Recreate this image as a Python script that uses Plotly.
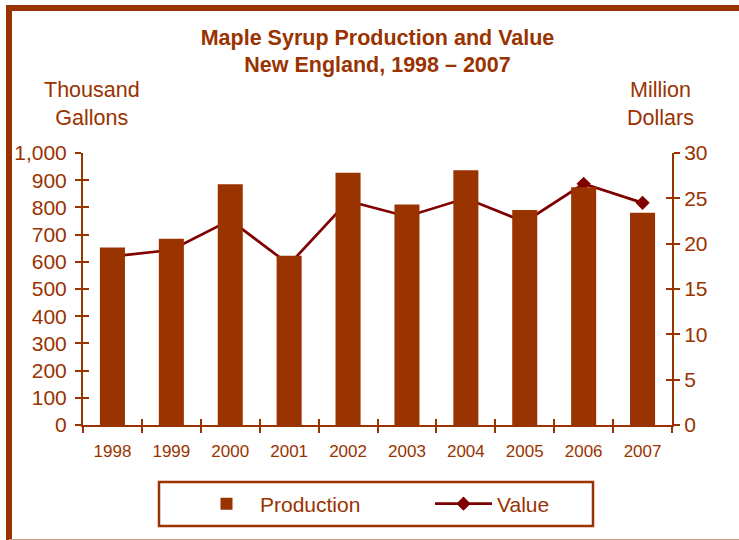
import plotly.graph_objects as go

years = ["1998", "1999", "2000", "2001", "2002", "2003", "2004", "2005", "2006", "2007"]
production = [653, 685, 885, 622, 927, 811, 937, 790, 874, 780]   # thousand gallons
value = [18.6, 19.3, 22.6, 17.7, 24.7, 23.0, 25.0, 22.4, 26.6, 24.5]  # million dollars
left_ticks = [0, 100, 200, 300, 400, 500, 600, 700, 800, 900, 1000]
right_ticks = [0, 5, 10, 15, 20, 25, 30]

BROWN = "#993300"
MAROON = "#800000"
FONT = "Liberation Sans, Arial, sans-serif"

W, H = 739, 540
L, R, T, B = 83, 67, 153, 115
pw, ph = W - L - R, H - T - B


def px_x(px):
    return (px - L) / pw


def px_y(py):
    return (H - B - py) / ph


fig = go.Figure()

# line (base subplot, drawn beneath bars)
fig.add_trace(go.Scatter(
    x=years, y=value, name="Value", mode="lines+markers",
    line=dict(color=MAROON, width=2.7),
    marker=dict(symbol="diamond", size=11, color=MAROON),
    xaxis="x", yaxis="y", legendrank=2,
))
# bars (overlaying subplot, drawn above line)
fig.add_trace(go.Bar(
    x=years, y=production, name="Production",
    marker=dict(color=BROWN, line=dict(width=0)),
    xaxis="x", yaxis="y2", legendrank=1,
))
# invisible helper traces so the inside-tick axes are drawn
fig.add_trace(go.Scatter(x=years, y=value, xaxis="x2", yaxis="y3", mode="markers",
                         marker=dict(opacity=0), showlegend=False, hoverinfo="skip"))
fig.add_trace(go.Scatter(x=years, y=production, xaxis="x", yaxis="y4", mode="markers",
                         marker=dict(opacity=0), showlegend=False, hoverinfo="skip"))

base = dict(showgrid=False, zeroline=False, linecolor=BROWN, tickcolor=BROWN,
            tickwidth=2, ticklen=6, linewidth=2)

fig.update_layout(
    width=W, height=H,
    margin=dict(l=L, r=R, t=T, b=B),
    paper_bgcolor="white", plot_bgcolor="white",
    bargap=0.575,
    font=dict(family=FONT, color=BROWN),
    title=dict(
        text="<b>Maple Syrup Production and Value<br>New England, 1998 \u2013 2007</b>",
        font=dict(family=FONT, size=21.5, color=BROWN),
        x=0.5, xref="paper", xanchor="center",
        y=1 - 44.5 / H, yref="container", yanchor="middle",
    ),
    xaxis=dict(type="category", categoryarray=years, range=[-0.5, 9.5],
               tickson="boundaries", ticks="outside", showline=True,
               ticklabelstandoff=10,
               tickfont=dict(family=FONT, size=17, color=BROWN), **base),
    xaxis2=dict(type="category", categoryarray=years, range=[-0.5, 9.5],
                overlaying="x", anchor="y", side="bottom",
                tickson="boundaries", ticks="inside", showline=False,
                showticklabels=False, **base),
    yaxis=dict(side="right", range=[0, 30], tickvals=right_ticks, ticks="outside",
               showline=True, ticklabelstandoff=0,
               tickfont=dict(family=FONT, size=21, color=BROWN), **base),
    yaxis2=dict(side="left", overlaying="y", range=[0, 1000], tickvals=left_ticks,
                tickformat=",", ticks="outside", showline=True, ticklabelstandoff=4,
                tickfont=dict(family=FONT, size=21, color=BROWN), **base),
    yaxis3=dict(side="right", overlaying="y", anchor="x2", range=[0, 30],
                tickvals=right_ticks, ticks="inside", showline=False,
                showticklabels=False, **base),
    yaxis4=dict(side="left", overlaying="y", anchor="x", range=[0, 1000],
                tickvals=left_ticks, ticks="inside", showline=False,
                showticklabels=False, **base),
    legend=dict(
        orientation="h", x=px_x(193), y=px_y(504), xanchor="left", yanchor="middle",
        xref="paper", yref="paper",
        borderwidth=0, bgcolor="rgba(0,0,0,0)",
        font=dict(family=FONT, size=21, color=BROWN),
        entrywidth=165, itemwidth=57,
    ),
    annotations=[
        dict(text="Thousand<br>Gallons", x=px_x(92), y=px_y(104), xref="paper", yref="paper",
             showarrow=False, xanchor="center", yanchor="middle",
             font=dict(family=FONT, size=21.5, color=BROWN)),
        dict(text="Million<br>Dollars", x=px_x(660), y=px_y(104), xref="paper", yref="paper",
             showarrow=False, xanchor="center", yanchor="middle",
             font=dict(family=FONT, size=21.5, color=BROWN)),
    ],
    shapes=[
        # outer frame
        dict(type="line", xref="paper", yref="paper", x0=px_x(6), x1=px_x(760),
             y0=px_y(8), y1=px_y(8), line=dict(color=BROWN, width=6)),
        dict(type="line", xref="paper", yref="paper", x0=px_x(9), x1=px_x(9),
             y0=px_y(5), y1=px_y(545), line=dict(color=BROWN, width=6)),
        dict(type="line", xref="paper", yref="paper", x0=px_x(9), x1=px_x(760),
             y0=px_y(539.5), y1=px_y(539.5), line=dict(color="#c9a08a", width=1)),
        # legend box
        dict(type="rect", xref="paper", yref="paper", x0=px_x(159), x1=px_x(593),
             y0=px_y(482), y1=px_y(526), line=dict(color=BROWN, width=2.5)),
    ],
    showlegend=True,
)

fig.write_html("out.html", config={"displayModeBar": False},
               post_script="document.body.style.margin='0px';")
